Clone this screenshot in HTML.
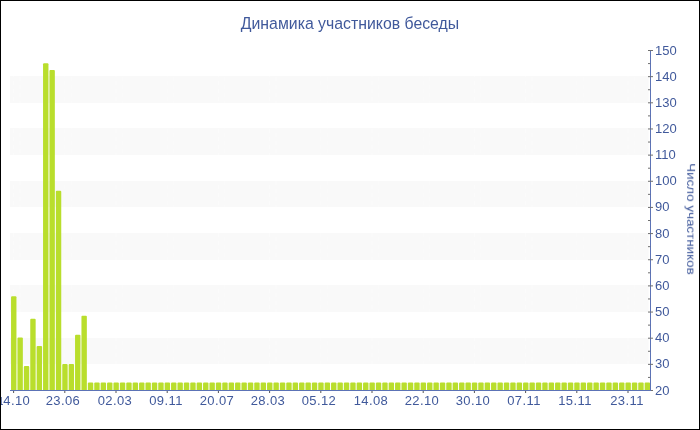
<!DOCTYPE html>
<html><head><meta charset="utf-8"><title>chart</title>
<style>
html,body{margin:0;padding:0;background:#fff;}
body{width:700px;height:430px;position:relative;overflow:hidden;font-family:"Liberation Sans",sans-serif;color:#40599b;}
#frame{position:absolute;left:0;top:0;width:698px;height:428px;border:1px solid #000;z-index:5;pointer-events:none;}
svg{position:absolute;left:0;top:0;}
.t{position:absolute;white-space:nowrap;line-height:1;will-change:transform;}
.title{font-size:15.83px;left:0;width:700px;text-align:center;top:15.3px;transform:scaleY(1.082);transform-origin:50% 0;}
.xl{font-size:13px;width:60px;text-align:center;top:394px;letter-spacing:0.4px;margin-left:-1.4px;}
.yl{font-size:13px;left:654.5px;}
.yt{font-size:13.4px;left:691.1px;top:218.7px;width:0;height:0;}
.yt span{position:absolute;display:block;white-space:nowrap;transform:translate(-50%,-50%) rotate(90deg) scaleY(0.88);left:0;top:0;}
</style></head><body>
<svg width="700" height="430" viewBox="0 0 700 430">
<rect x="10" y="76" width="638.7" height="27" fill="#f9f9f9"/>
<rect x="10" y="128" width="638.7" height="27" fill="#f9f9f9"/>
<rect x="10" y="181" width="638.7" height="26" fill="#f9f9f9"/>
<rect x="10" y="233" width="638.7" height="27" fill="#f9f9f9"/>
<rect x="10" y="285" width="638.7" height="27" fill="#f9f9f9"/>
<rect x="10" y="338" width="638.7" height="26" fill="#f9f9f9"/>
<line x1="13.60" y1="49" x2="13.60" y2="390" stroke="#ffffff" stroke-opacity="0.4" stroke-width="1" stroke-dasharray="4 4"/>
<line x1="20.00" y1="49" x2="20.00" y2="390" stroke="#ffffff" stroke-opacity="0.3" stroke-width="1" stroke-dasharray="4 4" stroke-dashoffset="4"/>
<line x1="64.80" y1="49" x2="64.80" y2="390" stroke="#ffffff" stroke-opacity="0.4" stroke-width="1" stroke-dasharray="4 4"/>
<line x1="71.20" y1="49" x2="71.20" y2="390" stroke="#ffffff" stroke-opacity="0.3" stroke-width="1" stroke-dasharray="4 4" stroke-dashoffset="4"/>
<line x1="116.00" y1="49" x2="116.00" y2="390" stroke="#ffffff" stroke-opacity="0.4" stroke-width="1" stroke-dasharray="4 4"/>
<line x1="122.40" y1="49" x2="122.40" y2="390" stroke="#ffffff" stroke-opacity="0.3" stroke-width="1" stroke-dasharray="4 4" stroke-dashoffset="4"/>
<line x1="167.20" y1="49" x2="167.20" y2="390" stroke="#ffffff" stroke-opacity="0.4" stroke-width="1" stroke-dasharray="4 4"/>
<line x1="173.60" y1="49" x2="173.60" y2="390" stroke="#ffffff" stroke-opacity="0.3" stroke-width="1" stroke-dasharray="4 4" stroke-dashoffset="4"/>
<line x1="218.40" y1="49" x2="218.40" y2="390" stroke="#ffffff" stroke-opacity="0.4" stroke-width="1" stroke-dasharray="4 4"/>
<line x1="224.80" y1="49" x2="224.80" y2="390" stroke="#ffffff" stroke-opacity="0.3" stroke-width="1" stroke-dasharray="4 4" stroke-dashoffset="4"/>
<line x1="269.60" y1="49" x2="269.60" y2="390" stroke="#ffffff" stroke-opacity="0.4" stroke-width="1" stroke-dasharray="4 4"/>
<line x1="276.00" y1="49" x2="276.00" y2="390" stroke="#ffffff" stroke-opacity="0.3" stroke-width="1" stroke-dasharray="4 4" stroke-dashoffset="4"/>
<line x1="320.80" y1="49" x2="320.80" y2="390" stroke="#ffffff" stroke-opacity="0.4" stroke-width="1" stroke-dasharray="4 4"/>
<line x1="327.20" y1="49" x2="327.20" y2="390" stroke="#ffffff" stroke-opacity="0.3" stroke-width="1" stroke-dasharray="4 4" stroke-dashoffset="4"/>
<line x1="372.00" y1="49" x2="372.00" y2="390" stroke="#ffffff" stroke-opacity="0.4" stroke-width="1" stroke-dasharray="4 4"/>
<line x1="378.40" y1="49" x2="378.40" y2="390" stroke="#ffffff" stroke-opacity="0.3" stroke-width="1" stroke-dasharray="4 4" stroke-dashoffset="4"/>
<line x1="423.20" y1="49" x2="423.20" y2="390" stroke="#ffffff" stroke-opacity="0.4" stroke-width="1" stroke-dasharray="4 4"/>
<line x1="429.60" y1="49" x2="429.60" y2="390" stroke="#ffffff" stroke-opacity="0.3" stroke-width="1" stroke-dasharray="4 4" stroke-dashoffset="4"/>
<line x1="474.40" y1="49" x2="474.40" y2="390" stroke="#ffffff" stroke-opacity="0.4" stroke-width="1" stroke-dasharray="4 4"/>
<line x1="480.80" y1="49" x2="480.80" y2="390" stroke="#ffffff" stroke-opacity="0.3" stroke-width="1" stroke-dasharray="4 4" stroke-dashoffset="4"/>
<line x1="525.60" y1="49" x2="525.60" y2="390" stroke="#ffffff" stroke-opacity="0.4" stroke-width="1" stroke-dasharray="4 4"/>
<line x1="532.00" y1="49" x2="532.00" y2="390" stroke="#ffffff" stroke-opacity="0.3" stroke-width="1" stroke-dasharray="4 4" stroke-dashoffset="4"/>
<line x1="576.80" y1="49" x2="576.80" y2="390" stroke="#ffffff" stroke-opacity="0.4" stroke-width="1" stroke-dasharray="4 4"/>
<line x1="583.20" y1="49" x2="583.20" y2="390" stroke="#ffffff" stroke-opacity="0.3" stroke-width="1" stroke-dasharray="4 4" stroke-dashoffset="4"/>
<line x1="628.00" y1="49" x2="628.00" y2="390" stroke="#ffffff" stroke-opacity="0.4" stroke-width="1" stroke-dasharray="4 4"/>
<line x1="634.40" y1="49" x2="634.40" y2="390" stroke="#ffffff" stroke-opacity="0.3" stroke-width="1" stroke-dasharray="4 4" stroke-dashoffset="4"/>
<path d="M11.05 390.5 V297.35 Q11.05 296.35 12.05 296.35 H15.45 Q16.45 296.35 16.45 297.35 V390.5 Z" fill="#b9de2c"/>
<path d="M17.45 390.5 V338.41 Q17.45 337.41 18.45 337.41 H21.85 Q22.85 337.41 22.85 338.41 V390.5 Z" fill="#b9de2c"/>
<path d="M23.85 390.5 V366.92 Q23.85 365.92 24.85 365.92 H28.25 Q29.25 365.92 29.25 366.92 V390.5 Z" fill="#b9de2c"/>
<path d="M30.25 390.5 V319.84 Q30.25 318.84 31.25 318.84 H34.65 Q35.65 318.84 35.65 319.84 V390.5 Z" fill="#b9de2c"/>
<path d="M36.65 390.5 V347.04 Q36.65 346.04 37.65 346.04 H41.05 Q42.05 346.04 42.05 347.04 V390.5 Z" fill="#b9de2c"/>
<path d="M43.05 390.5 V64.32 Q43.05 63.32 44.05 63.32 H47.45 Q48.45 63.32 48.45 64.32 V390.5 Z" fill="#b9de2c"/>
<path d="M49.45 390.5 V71.12 Q49.45 70.12 50.45 70.12 H53.85 Q54.85 70.12 54.85 71.12 V390.5 Z" fill="#b9de2c"/>
<path d="M55.85 390.5 V191.68 Q55.85 190.68 56.85 190.68 H60.25 Q61.25 190.68 61.25 191.68 V390.5 Z" fill="#b9de2c"/>
<path d="M62.25 390.5 V364.95 Q62.25 363.95 63.25 363.95 H66.65 Q67.65 363.95 67.65 364.95 V390.5 Z" fill="#b9de2c"/>
<path d="M68.65 390.5 V364.95 Q68.65 363.95 69.65 363.95 H73.05 Q74.05 363.95 74.05 364.95 V390.5 Z" fill="#b9de2c"/>
<path d="M75.05 390.5 V335.79 Q75.05 334.79 76.05 334.79 H79.45 Q80.45 334.79 80.45 335.79 V390.5 Z" fill="#b9de2c"/>
<path d="M81.45 390.5 V316.70 Q81.45 315.70 82.45 315.70 H85.85 Q86.85 315.70 86.85 316.70 V390.5 Z" fill="#b9de2c"/>
<path d="M87.85 390.5 V383.39 Q87.85 382.39 88.85 382.39 H92.25 Q93.25 382.39 93.25 383.39 V390.5 Z" fill="#b9de2c"/>
<path d="M94.25 390.5 V383.39 Q94.25 382.39 95.25 382.39 H98.65 Q99.65 382.39 99.65 383.39 V390.5 Z" fill="#b9de2c"/>
<path d="M100.65 390.5 V383.39 Q100.65 382.39 101.65 382.39 H105.05 Q106.05 382.39 106.05 383.39 V390.5 Z" fill="#b9de2c"/>
<path d="M107.05 390.5 V383.39 Q107.05 382.39 108.05 382.39 H111.45 Q112.45 382.39 112.45 383.39 V390.5 Z" fill="#b9de2c"/>
<path d="M113.45 390.5 V383.39 Q113.45 382.39 114.45 382.39 H117.85 Q118.85 382.39 118.85 383.39 V390.5 Z" fill="#b9de2c"/>
<path d="M119.85 390.5 V383.39 Q119.85 382.39 120.85 382.39 H124.25 Q125.25 382.39 125.25 383.39 V390.5 Z" fill="#b9de2c"/>
<path d="M126.25 390.5 V383.39 Q126.25 382.39 127.25 382.39 H130.65 Q131.65 382.39 131.65 383.39 V390.5 Z" fill="#b9de2c"/>
<path d="M132.65 390.5 V383.39 Q132.65 382.39 133.65 382.39 H137.05 Q138.05 382.39 138.05 383.39 V390.5 Z" fill="#b9de2c"/>
<path d="M139.05 390.5 V383.39 Q139.05 382.39 140.05 382.39 H143.45 Q144.45 382.39 144.45 383.39 V390.5 Z" fill="#b9de2c"/>
<path d="M145.45 390.5 V383.39 Q145.45 382.39 146.45 382.39 H149.85 Q150.85 382.39 150.85 383.39 V390.5 Z" fill="#b9de2c"/>
<path d="M151.85 390.5 V383.39 Q151.85 382.39 152.85 382.39 H156.25 Q157.25 382.39 157.25 383.39 V390.5 Z" fill="#b9de2c"/>
<path d="M158.25 390.5 V383.39 Q158.25 382.39 159.25 382.39 H162.65 Q163.65 382.39 163.65 383.39 V390.5 Z" fill="#b9de2c"/>
<path d="M164.65 390.5 V383.39 Q164.65 382.39 165.65 382.39 H169.05 Q170.05 382.39 170.05 383.39 V390.5 Z" fill="#b9de2c"/>
<path d="M171.05 390.5 V383.39 Q171.05 382.39 172.05 382.39 H175.45 Q176.45 382.39 176.45 383.39 V390.5 Z" fill="#b9de2c"/>
<path d="M177.45 390.5 V383.39 Q177.45 382.39 178.45 382.39 H181.85 Q182.85 382.39 182.85 383.39 V390.5 Z" fill="#b9de2c"/>
<path d="M183.85 390.5 V383.39 Q183.85 382.39 184.85 382.39 H188.25 Q189.25 382.39 189.25 383.39 V390.5 Z" fill="#b9de2c"/>
<path d="M190.25 390.5 V383.39 Q190.25 382.39 191.25 382.39 H194.65 Q195.65 382.39 195.65 383.39 V390.5 Z" fill="#b9de2c"/>
<path d="M196.65 390.5 V383.39 Q196.65 382.39 197.65 382.39 H201.05 Q202.05 382.39 202.05 383.39 V390.5 Z" fill="#b9de2c"/>
<path d="M203.05 390.5 V383.39 Q203.05 382.39 204.05 382.39 H207.45 Q208.45 382.39 208.45 383.39 V390.5 Z" fill="#b9de2c"/>
<path d="M209.45 390.5 V383.39 Q209.45 382.39 210.45 382.39 H213.85 Q214.85 382.39 214.85 383.39 V390.5 Z" fill="#b9de2c"/>
<path d="M215.85 390.5 V383.39 Q215.85 382.39 216.85 382.39 H220.25 Q221.25 382.39 221.25 383.39 V390.5 Z" fill="#b9de2c"/>
<path d="M222.25 390.5 V383.39 Q222.25 382.39 223.25 382.39 H226.65 Q227.65 382.39 227.65 383.39 V390.5 Z" fill="#b9de2c"/>
<path d="M228.65 390.5 V383.39 Q228.65 382.39 229.65 382.39 H233.05 Q234.05 382.39 234.05 383.39 V390.5 Z" fill="#b9de2c"/>
<path d="M235.05 390.5 V383.39 Q235.05 382.39 236.05 382.39 H239.45 Q240.45 382.39 240.45 383.39 V390.5 Z" fill="#b9de2c"/>
<path d="M241.45 390.5 V383.39 Q241.45 382.39 242.45 382.39 H245.85 Q246.85 382.39 246.85 383.39 V390.5 Z" fill="#b9de2c"/>
<path d="M247.85 390.5 V383.39 Q247.85 382.39 248.85 382.39 H252.25 Q253.25 382.39 253.25 383.39 V390.5 Z" fill="#b9de2c"/>
<path d="M254.25 390.5 V383.39 Q254.25 382.39 255.25 382.39 H258.65 Q259.65 382.39 259.65 383.39 V390.5 Z" fill="#b9de2c"/>
<path d="M260.65 390.5 V383.39 Q260.65 382.39 261.65 382.39 H265.05 Q266.05 382.39 266.05 383.39 V390.5 Z" fill="#b9de2c"/>
<path d="M267.05 390.5 V383.39 Q267.05 382.39 268.05 382.39 H271.45 Q272.45 382.39 272.45 383.39 V390.5 Z" fill="#b9de2c"/>
<path d="M273.45 390.5 V383.39 Q273.45 382.39 274.45 382.39 H277.85 Q278.85 382.39 278.85 383.39 V390.5 Z" fill="#b9de2c"/>
<path d="M279.85 390.5 V383.39 Q279.85 382.39 280.85 382.39 H284.25 Q285.25 382.39 285.25 383.39 V390.5 Z" fill="#b9de2c"/>
<path d="M286.25 390.5 V383.39 Q286.25 382.39 287.25 382.39 H290.65 Q291.65 382.39 291.65 383.39 V390.5 Z" fill="#b9de2c"/>
<path d="M292.65 390.5 V383.39 Q292.65 382.39 293.65 382.39 H297.05 Q298.05 382.39 298.05 383.39 V390.5 Z" fill="#b9de2c"/>
<path d="M299.05 390.5 V383.39 Q299.05 382.39 300.05 382.39 H303.45 Q304.45 382.39 304.45 383.39 V390.5 Z" fill="#b9de2c"/>
<path d="M305.45 390.5 V383.39 Q305.45 382.39 306.45 382.39 H309.85 Q310.85 382.39 310.85 383.39 V390.5 Z" fill="#b9de2c"/>
<path d="M311.85 390.5 V383.39 Q311.85 382.39 312.85 382.39 H316.25 Q317.25 382.39 317.25 383.39 V390.5 Z" fill="#b9de2c"/>
<path d="M318.25 390.5 V383.39 Q318.25 382.39 319.25 382.39 H322.65 Q323.65 382.39 323.65 383.39 V390.5 Z" fill="#b9de2c"/>
<path d="M324.65 390.5 V383.39 Q324.65 382.39 325.65 382.39 H329.05 Q330.05 382.39 330.05 383.39 V390.5 Z" fill="#b9de2c"/>
<path d="M331.05 390.5 V383.39 Q331.05 382.39 332.05 382.39 H335.45 Q336.45 382.39 336.45 383.39 V390.5 Z" fill="#b9de2c"/>
<path d="M337.45 390.5 V383.39 Q337.45 382.39 338.45 382.39 H341.85 Q342.85 382.39 342.85 383.39 V390.5 Z" fill="#b9de2c"/>
<path d="M343.85 390.5 V383.39 Q343.85 382.39 344.85 382.39 H348.25 Q349.25 382.39 349.25 383.39 V390.5 Z" fill="#b9de2c"/>
<path d="M350.25 390.5 V383.39 Q350.25 382.39 351.25 382.39 H354.65 Q355.65 382.39 355.65 383.39 V390.5 Z" fill="#b9de2c"/>
<path d="M356.65 390.5 V383.39 Q356.65 382.39 357.65 382.39 H361.05 Q362.05 382.39 362.05 383.39 V390.5 Z" fill="#b9de2c"/>
<path d="M363.05 390.5 V383.39 Q363.05 382.39 364.05 382.39 H367.45 Q368.45 382.39 368.45 383.39 V390.5 Z" fill="#b9de2c"/>
<path d="M369.45 390.5 V383.39 Q369.45 382.39 370.45 382.39 H373.85 Q374.85 382.39 374.85 383.39 V390.5 Z" fill="#b9de2c"/>
<path d="M375.85 390.5 V383.39 Q375.85 382.39 376.85 382.39 H380.25 Q381.25 382.39 381.25 383.39 V390.5 Z" fill="#b9de2c"/>
<path d="M382.25 390.5 V383.39 Q382.25 382.39 383.25 382.39 H386.65 Q387.65 382.39 387.65 383.39 V390.5 Z" fill="#b9de2c"/>
<path d="M388.65 390.5 V383.39 Q388.65 382.39 389.65 382.39 H393.05 Q394.05 382.39 394.05 383.39 V390.5 Z" fill="#b9de2c"/>
<path d="M395.05 390.5 V383.39 Q395.05 382.39 396.05 382.39 H399.45 Q400.45 382.39 400.45 383.39 V390.5 Z" fill="#b9de2c"/>
<path d="M401.45 390.5 V383.39 Q401.45 382.39 402.45 382.39 H405.85 Q406.85 382.39 406.85 383.39 V390.5 Z" fill="#b9de2c"/>
<path d="M407.85 390.5 V383.39 Q407.85 382.39 408.85 382.39 H412.25 Q413.25 382.39 413.25 383.39 V390.5 Z" fill="#b9de2c"/>
<path d="M414.25 390.5 V383.39 Q414.25 382.39 415.25 382.39 H418.65 Q419.65 382.39 419.65 383.39 V390.5 Z" fill="#b9de2c"/>
<path d="M420.65 390.5 V383.39 Q420.65 382.39 421.65 382.39 H425.05 Q426.05 382.39 426.05 383.39 V390.5 Z" fill="#b9de2c"/>
<path d="M427.05 390.5 V383.39 Q427.05 382.39 428.05 382.39 H431.45 Q432.45 382.39 432.45 383.39 V390.5 Z" fill="#b9de2c"/>
<path d="M433.45 390.5 V383.39 Q433.45 382.39 434.45 382.39 H437.85 Q438.85 382.39 438.85 383.39 V390.5 Z" fill="#b9de2c"/>
<path d="M439.85 390.5 V383.39 Q439.85 382.39 440.85 382.39 H444.25 Q445.25 382.39 445.25 383.39 V390.5 Z" fill="#b9de2c"/>
<path d="M446.25 390.5 V383.39 Q446.25 382.39 447.25 382.39 H450.65 Q451.65 382.39 451.65 383.39 V390.5 Z" fill="#b9de2c"/>
<path d="M452.65 390.5 V383.39 Q452.65 382.39 453.65 382.39 H457.05 Q458.05 382.39 458.05 383.39 V390.5 Z" fill="#b9de2c"/>
<path d="M459.05 390.5 V383.39 Q459.05 382.39 460.05 382.39 H463.45 Q464.45 382.39 464.45 383.39 V390.5 Z" fill="#b9de2c"/>
<path d="M465.45 390.5 V383.39 Q465.45 382.39 466.45 382.39 H469.85 Q470.85 382.39 470.85 383.39 V390.5 Z" fill="#b9de2c"/>
<path d="M471.85 390.5 V383.39 Q471.85 382.39 472.85 382.39 H476.25 Q477.25 382.39 477.25 383.39 V390.5 Z" fill="#b9de2c"/>
<path d="M478.25 390.5 V383.39 Q478.25 382.39 479.25 382.39 H482.65 Q483.65 382.39 483.65 383.39 V390.5 Z" fill="#b9de2c"/>
<path d="M484.65 390.5 V383.39 Q484.65 382.39 485.65 382.39 H489.05 Q490.05 382.39 490.05 383.39 V390.5 Z" fill="#b9de2c"/>
<path d="M491.05 390.5 V383.39 Q491.05 382.39 492.05 382.39 H495.45 Q496.45 382.39 496.45 383.39 V390.5 Z" fill="#b9de2c"/>
<path d="M497.45 390.5 V383.39 Q497.45 382.39 498.45 382.39 H501.85 Q502.85 382.39 502.85 383.39 V390.5 Z" fill="#b9de2c"/>
<path d="M503.85 390.5 V383.39 Q503.85 382.39 504.85 382.39 H508.25 Q509.25 382.39 509.25 383.39 V390.5 Z" fill="#b9de2c"/>
<path d="M510.25 390.5 V383.39 Q510.25 382.39 511.25 382.39 H514.65 Q515.65 382.39 515.65 383.39 V390.5 Z" fill="#b9de2c"/>
<path d="M516.65 390.5 V383.39 Q516.65 382.39 517.65 382.39 H521.05 Q522.05 382.39 522.05 383.39 V390.5 Z" fill="#b9de2c"/>
<path d="M523.05 390.5 V383.39 Q523.05 382.39 524.05 382.39 H527.45 Q528.45 382.39 528.45 383.39 V390.5 Z" fill="#b9de2c"/>
<path d="M529.45 390.5 V383.39 Q529.45 382.39 530.45 382.39 H533.85 Q534.85 382.39 534.85 383.39 V390.5 Z" fill="#b9de2c"/>
<path d="M535.85 390.5 V383.39 Q535.85 382.39 536.85 382.39 H540.25 Q541.25 382.39 541.25 383.39 V390.5 Z" fill="#b9de2c"/>
<path d="M542.25 390.5 V383.39 Q542.25 382.39 543.25 382.39 H546.65 Q547.65 382.39 547.65 383.39 V390.5 Z" fill="#b9de2c"/>
<path d="M548.65 390.5 V383.39 Q548.65 382.39 549.65 382.39 H553.05 Q554.05 382.39 554.05 383.39 V390.5 Z" fill="#b9de2c"/>
<path d="M555.05 390.5 V383.39 Q555.05 382.39 556.05 382.39 H559.45 Q560.45 382.39 560.45 383.39 V390.5 Z" fill="#b9de2c"/>
<path d="M561.45 390.5 V383.39 Q561.45 382.39 562.45 382.39 H565.85 Q566.85 382.39 566.85 383.39 V390.5 Z" fill="#b9de2c"/>
<path d="M567.85 390.5 V383.39 Q567.85 382.39 568.85 382.39 H572.25 Q573.25 382.39 573.25 383.39 V390.5 Z" fill="#b9de2c"/>
<path d="M574.25 390.5 V383.39 Q574.25 382.39 575.25 382.39 H578.65 Q579.65 382.39 579.65 383.39 V390.5 Z" fill="#b9de2c"/>
<path d="M580.65 390.5 V383.39 Q580.65 382.39 581.65 382.39 H585.05 Q586.05 382.39 586.05 383.39 V390.5 Z" fill="#b9de2c"/>
<path d="M587.05 390.5 V383.39 Q587.05 382.39 588.05 382.39 H591.45 Q592.45 382.39 592.45 383.39 V390.5 Z" fill="#b9de2c"/>
<path d="M593.45 390.5 V383.39 Q593.45 382.39 594.45 382.39 H597.85 Q598.85 382.39 598.85 383.39 V390.5 Z" fill="#b9de2c"/>
<path d="M599.85 390.5 V383.39 Q599.85 382.39 600.85 382.39 H604.25 Q605.25 382.39 605.25 383.39 V390.5 Z" fill="#b9de2c"/>
<path d="M606.25 390.5 V383.39 Q606.25 382.39 607.25 382.39 H610.65 Q611.65 382.39 611.65 383.39 V390.5 Z" fill="#b9de2c"/>
<path d="M612.65 390.5 V383.39 Q612.65 382.39 613.65 382.39 H617.05 Q618.05 382.39 618.05 383.39 V390.5 Z" fill="#b9de2c"/>
<path d="M619.05 390.5 V383.39 Q619.05 382.39 620.05 382.39 H623.45 Q624.45 382.39 624.45 383.39 V390.5 Z" fill="#b9de2c"/>
<path d="M625.45 390.5 V383.39 Q625.45 382.39 626.45 382.39 H629.85 Q630.85 382.39 630.85 383.39 V390.5 Z" fill="#b9de2c"/>
<path d="M631.85 390.5 V383.39 Q631.85 382.39 632.85 382.39 H636.25 Q637.25 382.39 637.25 383.39 V390.5 Z" fill="#b9de2c"/>
<path d="M638.25 390.5 V383.39 Q638.25 382.39 639.25 382.39 H642.65 Q643.65 382.39 643.65 383.39 V390.5 Z" fill="#b9de2c"/>
<path d="M644.65 390.5 V383.39 Q644.65 382.39 645.65 382.39 H649.05 Q650.05 382.39 650.05 383.39 V390.5 Z" fill="#b9de2c"/>
<rect x="650" y="50.5" width="1" height="340" fill="#5c73b6"/>
<rect x="13.10" y="391" width="1" height="2" fill="#555"/>
<rect x="64.30" y="391" width="1" height="2" fill="#555"/>
<rect x="115.50" y="391" width="1" height="2" fill="#555"/>
<rect x="166.70" y="391" width="1" height="2" fill="#555"/>
<rect x="217.90" y="391" width="1" height="2" fill="#555"/>
<rect x="269.10" y="391" width="1" height="2" fill="#555"/>
<rect x="320.30" y="391" width="1" height="2" fill="#555"/>
<rect x="371.50" y="391" width="1" height="2" fill="#555"/>
<rect x="422.70" y="391" width="1" height="2" fill="#555"/>
<rect x="473.90" y="391" width="1" height="2" fill="#555"/>
<rect x="525.10" y="391" width="1" height="2" fill="#555"/>
<rect x="576.30" y="391" width="1" height="2" fill="#555"/>
<rect x="627.50" y="391" width="1" height="2" fill="#555"/>
<rect x="648" y="50.00" width="5" height="1" fill="#707070"/>
<rect x="648" y="63.08" width="2.3" height="1" fill="#707070"/>
<rect x="648" y="76.15" width="5" height="1" fill="#707070"/>
<rect x="648" y="89.23" width="2.3" height="1" fill="#707070"/>
<rect x="648" y="102.31" width="5" height="1" fill="#707070"/>
<rect x="648" y="115.38" width="2.3" height="1" fill="#707070"/>
<rect x="648" y="128.46" width="5" height="1" fill="#707070"/>
<rect x="648" y="141.54" width="2.3" height="1" fill="#707070"/>
<rect x="648" y="154.62" width="5" height="1" fill="#707070"/>
<rect x="648" y="167.69" width="2.3" height="1" fill="#707070"/>
<rect x="648" y="180.77" width="5" height="1" fill="#707070"/>
<rect x="648" y="193.85" width="2.3" height="1" fill="#707070"/>
<rect x="648" y="206.92" width="5" height="1" fill="#707070"/>
<rect x="648" y="220.00" width="2.3" height="1" fill="#707070"/>
<rect x="648" y="233.08" width="5" height="1" fill="#707070"/>
<rect x="648" y="246.15" width="2.3" height="1" fill="#707070"/>
<rect x="648" y="259.23" width="5" height="1" fill="#707070"/>
<rect x="648" y="272.31" width="2.3" height="1" fill="#707070"/>
<rect x="648" y="285.38" width="5" height="1" fill="#707070"/>
<rect x="648" y="298.46" width="2.3" height="1" fill="#707070"/>
<rect x="648" y="311.54" width="5" height="1" fill="#707070"/>
<rect x="648" y="324.62" width="2.3" height="1" fill="#707070"/>
<rect x="648" y="337.69" width="5" height="1" fill="#707070"/>
<rect x="648" y="350.77" width="2.3" height="1" fill="#707070"/>
<rect x="648" y="363.85" width="5" height="1" fill="#707070"/>
<rect x="648" y="376.92" width="2.3" height="1" fill="#707070"/>
<rect x="648" y="390.00" width="5" height="1" fill="#707070"/>
<rect x="10" y="390" width="641" height="1" fill="#5c73b6"/>
</svg>
<div class="t title">Динамика участников беседы</div>
<div class="t xl" style="left:-15.7px">14.10</div>
<div class="t xl" style="left:34.8px">23.06</div>
<div class="t xl" style="left:86.0px">02.03</div>
<div class="t xl" style="left:137.2px">09.11</div>
<div class="t xl" style="left:188.4px">20.07</div>
<div class="t xl" style="left:239.6px">28.03</div>
<div class="t xl" style="left:290.8px">05.12</div>
<div class="t xl" style="left:342.0px">14.08</div>
<div class="t xl" style="left:393.2px">22.10</div>
<div class="t xl" style="left:444.4px">30.10</div>
<div class="t xl" style="left:495.6px">07.11</div>
<div class="t xl" style="left:546.8px">15.11</div>
<div class="t xl" style="left:598.0px">23.11</div>
<div class="t yl" style="top:44px">150</div>
<div class="t yl" style="top:70px">140</div>
<div class="t yl" style="top:96px">130</div>
<div class="t yl" style="top:122px">120</div>
<div class="t yl" style="top:148px">110</div>
<div class="t yl" style="top:174px">100</div>
<div class="t yl" style="top:200px">90</div>
<div class="t yl" style="top:227px">80</div>
<div class="t yl" style="top:253px">70</div>
<div class="t yl" style="top:279px">60</div>
<div class="t yl" style="top:305px">50</div>
<div class="t yl" style="top:331px">40</div>
<div class="t yl" style="top:357px">30</div>
<div class="t yl" style="top:384px">20</div>
<div class="t yt"><span>Число участников</span></div>
<div style="position:absolute;left:1px;top:396.5px;width:0.8px;height:8px;background:#40599b;opacity:.7"></div><div style="position:absolute;left:1px;top:403.6px;width:1.6px;height:1px;background:#40599b;opacity:.7"></div>
<div id="frame"></div>
</body></html>
